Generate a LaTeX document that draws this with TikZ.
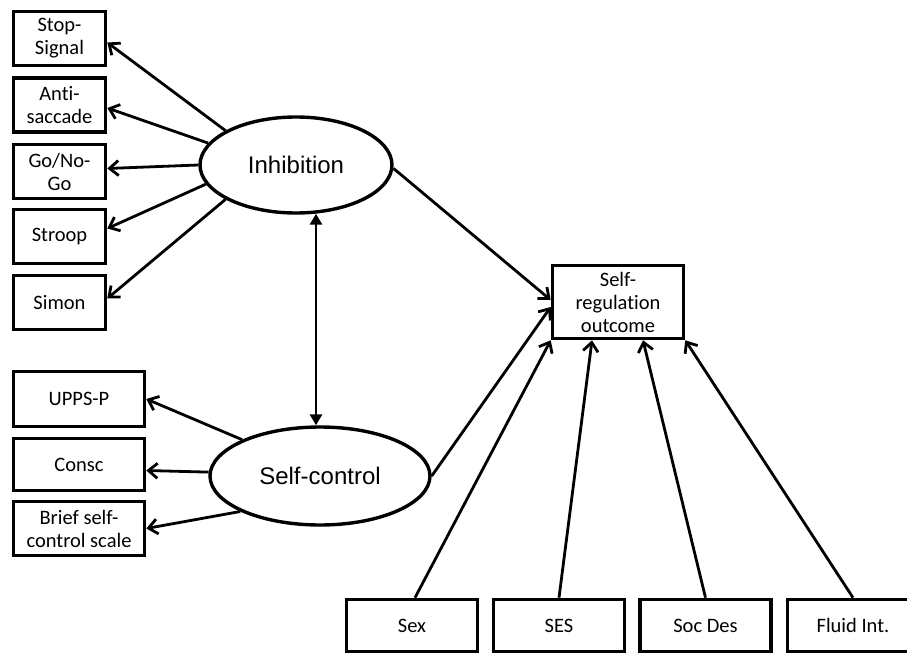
\documentclass[tikz,border=0pt]{standalone}
\usepackage{fontspec}
\setmainfont[Ligatures=NoCommon]{Carlito}
\newfontfamily\arialf{Liberation Sans}
\usetikzlibrary{arrows.meta,shapes.geometric}
\begin{document}
\begin{tikzpicture}[x=1pt,y=-1pt,
  box/.style={draw,line width=3.6pt,rectangle,inner sep=0pt,align=center,
    font=\fontsize{20.5}{23}\selectfont},
  smallbox/.style={box,minimum width=92pt,minimum height=54pt},
  widebox/.style={box,minimum width=131pt},
  latent/.style={draw,line width=3.4pt,ellipse,inner sep=0pt,
    font=\arialf\fontsize{24}{28}\selectfont},
  conn/.style={line width=2.8pt,-{Straight Barb[length=9pt,width=15pt,line width=2.8pt]}},
  dbl/.style={line width=2.8pt,{Triangle[length=11pt,width=12pt]}-{Triangle[length=11pt,width=12pt]}}]
\clip (0,0) rectangle (907,655);
\fill[white] (0,0) rectangle (907,655);

% indicator boxes of Inhibition
\node[smallbox] (stop)   at (59.5,38.5)  {Stop-\\Signal};
\node[smallbox] (anti)   at (59.5,105)   {Anti-\\saccade};
\node[smallbox] (gonogo) at (59.5,171.5) {Go/No-\\Go};
\node[smallbox] (stroop) at (59.5,236.5) {Stroop};
\node[smallbox] (simon)  at (59.5,302.5) {Simon};

% indicator boxes of Self-control
\node[widebox,minimum height=55pt] (upps)  at (79,399)   {UPPS-P};
\node[widebox,minimum height=52pt] (consc) at (79,464.5) {Consc};
\node[widebox,minimum height=54pt] (brief) at (79,528.5) {Brief self-\\control scale};

% latent variables
\node[latent,minimum width=192pt,minimum height=96pt] (inh) at (296,165) {Inhibition};
\node[latent,minimum width=220pt,minimum height=98pt] (sc)  at (320,476) {Self-control};

% outcome
\node[widebox,minimum height=73pt] (out) at (618,302) {Self-\\regulation\\outcome};

% covariates
\node[widebox,minimum height=52pt] (sex)    at (412,625.5)   {Sex};
\node[widebox,minimum height=52pt] (ses)    at (559,625.5)   {SES};
\node[widebox,minimum height=52pt] (socdes) at (705.5,625.5) {Soc Des};
\node[widebox,minimum height=52pt] (fluid)  at (853,625.5)   {Fluid Int.};

% loadings
\draw[conn] (inh.154) -- ([yshift=-4pt]stop.east);
\draw[conn] (inh.166) -- ([yshift=-3pt]anti.east);
\draw[conn] (inh.180) -- ([yshift=3pt]gonogo.east);
\draw[conn] (inh.192) -- ([yshift=8pt]stroop.east);
\draw[conn] (inh.206) -- ([yshift=4pt]simon.east);

\draw[conn] (sc.155) -- (upps.east);
\draw[conn] (sc.178) -- ([yshift=-6pt]consc.east);
\draw[conn] (sc.204) -- (brief.east);

% correlation
\draw[dbl] ([xshift=20pt,yshift=1pt]inh.south) -- ([xshift=-4pt]sc.north);

% paths to outcome
\draw[conn] (inh.-2) -- ([yshift=2pt]out.west);
\draw[conn] (sc.0) -- ([yshift=-5pt]out.west);
\draw[conn] ([xshift=3pt]sex.north) -- (out.south west);
\draw[conn] (ses.north) -- ([xshift=-26pt]out.south);
\draw[conn] (socdes.north) -- ([xshift=25pt]out.south);
\draw[conn] (fluid.north) -- (out.south east);
\end{tikzpicture}
\end{document}
